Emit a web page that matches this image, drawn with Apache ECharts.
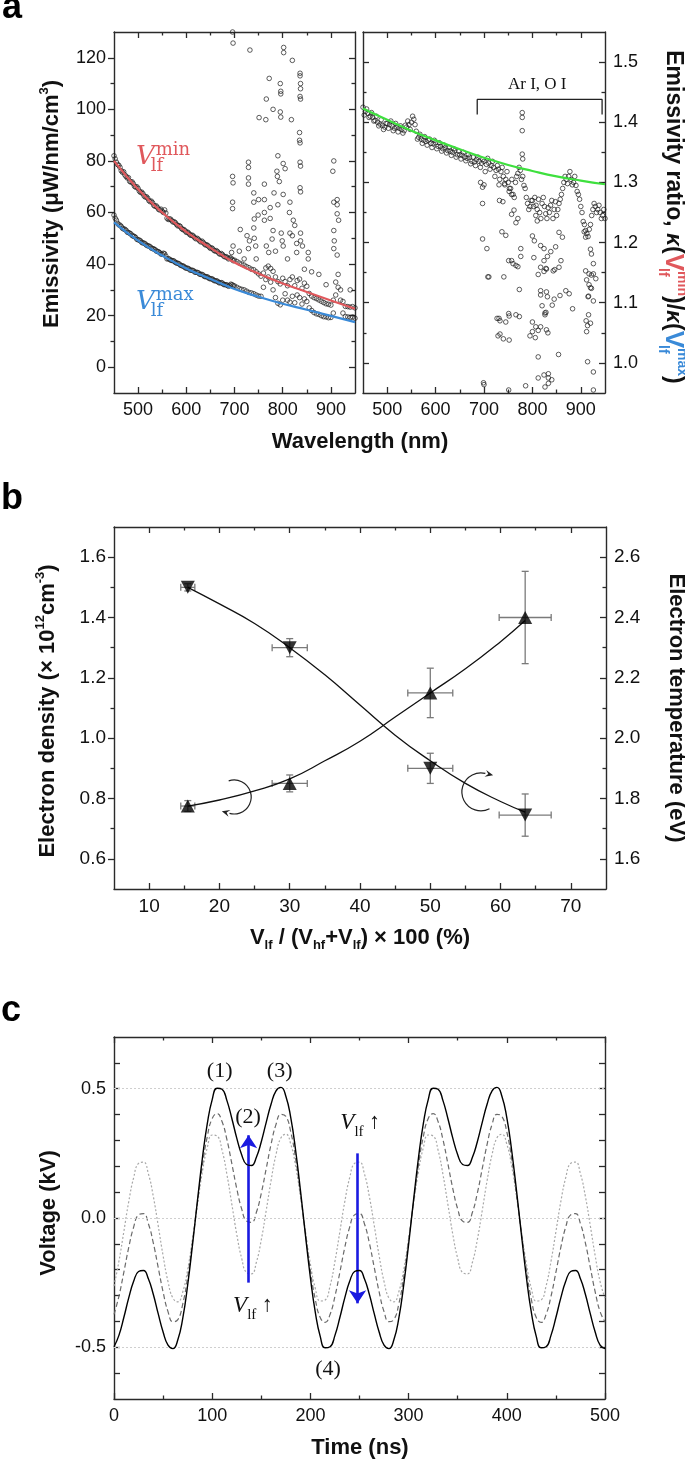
<!DOCTYPE html>
<html><head><meta charset="utf-8">
<script src="https://cdn.jsdelivr.net/npm/echarts@6/dist/echarts.min.js"></script>
<style>html,body{margin:0;padding:0;background:#fff}#c{width:685px;height:1463px}</style>
</head><body><div id="c"></div>
<script>
// ---------------- DATA ----------------
function range(a, b, s) { const r = []; for (let v = a; v <= b + 1e-9; v += s) r.push(Math.round(v * 1000) / 1000); return r; }
// Panel a
const wavelengths = range(450, 950, 5);
const wavelengthsB = range(452.5, 947.5, 5);
const wavelengthsShort = range(452.5, 697.5, 5);
const emisMinData = [82.0,79.5,78.3,76.2,75.8,74.0,73.5,71.8,71.2,69.8,
 69.3,67.8,67.3,66.0,65.5,64.2,63.8,62.4,62.0,61.0,
 60.5,61.0,57.8,57.5,56.8,56.4,55.3,54.9,53.8,53.4,
 52.3,52.0,51.1,50.8,49.8,49.6,48.6,48.4,47.4,47.1,
 46.1,45.9,45.0,44.8,43.8,43.7,42.8,42.5,42.3,41.8,
 41.5,41.0,40.4,40.0,39.6,39.0,38.6,38.0,37.8,37.0,
 36.2,35.3,36.5,38.5,39.2,38.3,37.2,35.0,33.2,32.3,
 34.5,33.2,31.6,34.0,35.0,31.6,33.6,34.2,30.6,32.6,
 31.4,28.6,27.6,27.0,26.6,26.1,25.6,25.1,24.6,24.4,
 24.1,26.0,33.0,36.0,30.0,25.5,23.6,23.5,23.3,23.5,23.0];
const emisMinDataB = [80.8,78.6,77.5,75.6,74.6,73.4,72.1,71.9,70.2,70.0,
 68.3,67.9,66.4,66.1,64.6,64.4,62.8,62.6,61.2,61.3,
 60.0,59.8,57.3,57.4,56.3,56.0,54.8,54.6,53.4,52.9,
 52.4,51.4,51.2,50.2,50.0,49.0,48.9,47.8,47.5,46.6,
 46.3,45.3,45.2,44.2,44.1,43.1,42.9,42.0,42.4,41.3];
const emisMaxData = [59.0,57.0,55.2,54.6,53.6,53.1,52.2,51.7,50.8,50.3,
 49.4,49.0,48.2,47.8,47.1,46.7,46.0,45.6,44.9,44.4,
 43.8,44.0,42.0,41.9,41.4,41.1,40.4,40.1,39.4,39.1,
 38.4,38.2,37.6,37.4,36.8,36.6,36.0,35.7,35.1,34.9,
 34.3,34.1,33.5,33.3,32.7,32.6,32.0,31.8,31.7,32.0,
 31.5,31.0,30.5,30.2,30.0,29.5,29.0,28.8,28.5,28.0,
 27.6,27.5,31.0,34.0,35.0,33.0,30.0,27.0,24.8,24.2,
 26.0,28.5,26.0,25.2,27.5,25.0,28.0,27.0,24.5,26.5,
 25.5,23.0,22.0,21.2,20.7,20.5,20.0,19.6,19.5,19.2,
 19.3,21.0,28.0,31.0,26.0,21.0,19.6,19.5,19.3,19.5,19.0];
const emisMaxDataB = [57.8,55.8,55.1,53.9,53.5,52.4,52.0,51.1,50.7,49.6,
 49.3,48.4,48.1,47.3,47.0,46.2,45.9,45.1,44.8,43.9,
 44.2,43.1,42.1,41.5,41.3,40.6,40.3,39.6,39.3,38.6,
 38.4,37.7,37.6,36.9,36.8,36.1,36.0,35.2,35.1,34.4,
 34.3,33.6,33.5,32.8,32.8,32.1,32.0,31.4,32.2,31.6];
const ratioData = [1.425,1.418,1.415,1.410,1.408,1.403,1.400,1.397,1.395,1.392,
 1.398,1.396,1.394,1.390,1.392,1.390,1.388,1.386,1.392,1.396,
 1.400,1.405,1.385,1.375,1.372,1.370,1.368,1.370,1.365,1.364,
 1.366,1.360,1.360,1.356,1.358,1.353,1.352,1.350,1.353,1.346,
 1.346,1.345,1.342,1.340,1.342,1.335,1.334,1.338,1.335,1.332,
 1.335,1.330,1.332,1.328,1.325,1.320,1.322,1.318,1.310,1.305,
 1.300,1.290,1.280,1.300,1.315,1.320,1.310,1.290,1.265,1.260,
 1.270,1.275,1.255,1.250,1.265,1.260,1.240,1.250,1.270,1.255,
 1.245,1.265,1.280,1.300,1.305,1.310,1.305,1.300,1.295,1.280,
 1.260,1.235,1.220,1.210,1.230,1.255,1.260,1.255,1.250,1.245,1.240];
const ratioDataB = [1.412,1.422,1.408,1.416,1.402,1.410,1.394,1.404,1.388,1.398,
 1.390,1.402,1.386,1.398,1.384,1.394,1.382,1.395,1.402,1.388,
 1.410,1.396,1.372,1.380,1.365,1.376,1.362,1.372,1.358,1.370,
 1.356,1.366,1.352,1.362,1.349,1.358,1.345,1.356,1.342,1.352,
 1.339,1.350,1.336,1.346,1.331,1.342,1.328,1.342,1.325,1.338,
 1.318,1.340,1.322,1.335,1.310,1.328,1.305,1.325,1.298,1.318,
 1.290,1.305,1.275,1.310,1.325,1.305,1.295,1.275,1.255,1.270,
 1.260,1.262,1.272,1.240,1.275,1.248,1.258,1.262,1.240,1.268,
 1.255,1.272,1.290,1.310,1.298,1.318,1.296,1.310,1.285,1.272,
 1.250,1.230,1.215,1.222,1.245,1.265,1.250,1.262,1.240,1.255];
const fitWavelengths = [450,500,550,600,650,700,750,800,850,900,950];
const fitMin = [80.0,69.0,60.0,52.5,46.3,40.6,36.3,32.5,29.2,25.9,22.7];
const fitMax = [56.2,49.1,43.3,38.3,34.2,30.3,27.3,24.6,22.3,19.9,17.5];
const fitRatio = [1.423,1.404,1.386,1.370,1.355,1.341,1.329,1.319,1.310,1.303,1.297];
const emisOutliers = [[696,130],[697,125.7],[732,123],[772,112],[766,104],[780,100],[751,96.8],[765,96],[802,124],[802,122],[820,119],[836,114],[836,113],[837,110],[837,108],[836,105],[837,104],[795,110],[796,107],[796,106],[795,99],[796,97],[818,96],[835,91],[835,88],[836,87],[790,82],[801,79],[805,77],[836,79.5],[837,78],[836,69.6],[837,68],[906,80],[904,76],[913,65],[913,63],[906,64],[696,74],[697,71.5],[696,64],[696,61.5],[729,79.5],[729,77.5],[729,73.4],[729,71],[740,67.6],[740,64],[741,57.5],[740,54],[712,53.4],[762,71],[782,67.6],[762,65],[762,60],[774,61.9],[774,57.7],[788,76],[789,74],[793,72],[801,67],[815,64],[814,60],[822,57],[825,55],[837,52],[837,49],[841,47],[797,52],[799,49],[780,53],[762,57],[778,49.7],[741,50],[744,47],[697,47],[694,44.5],[766,47],[771,44.5],[801,47],[829,48],[829,44.5],[853,44.5],[853,42],[906,53],[907,49],[913,59.5],[916,57],[906,46],[913,43.5],[726,51],[731,49],[729,46],[750,65],[749,59],[790,63],[815,52],[820,51],[710,45],[720,42],[745,42],[785,45],[810,42],[845,38],[860,37],[875,36],[890,32],[940,30]];
const ratioOutliers = [[779,1.416],[779,1.408],[779,1.386],[779,1.347],[780,1.339],[693,1.30],[697,1.292],[700,1.296],[697,1.265],[731,1.296],[743,1.296],[752,1.285],[757,1.28],[739,1.268],[732,1.27],[697,1.206],[706,1.19],[737,1.218],[745,1.212],[757,1.247],[762,1.254],[770,1.24],[766,1.233],[710,1.143],[741,1.143],[757,1.17],[770,1.16],[776,1.19],[800,1.211],[804,1.203],[807,1.245],[810,1.236],[817,1.195],[824,1.19],[817,1.159],[828,1.157],[817,1.12],[820,1.095],[828,1.084],[838,1.185],[848,1.193],[855,1.217],[862,1.209],[859,1.17],[855,1.159],[869,1.12],[876,1.115],[883,1.09],[845,1.106],[841,1.096],[907,1.218],[910,1.209],[920,1.189],[922,1.181],[926,1.165],[926,1.148],[931,1.14],[920,1.125],[916,1.111],[926,1.103],[916,1.08],[731,1.074],[745,1.068],[766,1.08],[773,1.077],[800,1.068],[807,1.06],[751,1.17],[760,1.165],[766,1.162],[776,1.177],[803,1.175],[824,1.17],[831,1.177],[846,1.155],[843,1.153],[812,1.147],[824,1.152],[829,1.156],[708,1.143],[773,1.122],[829,1.118],[831,1.11],[817,1.113],[857,1.112],[910,1.153],[917,1.148],[922,1.146],[912,1.138],[917,1.13],[922,1.124],[915,1.11],[727,1.074],[733,1.07],[751,1.082],[752,1.078],[729,1.045],[733,1.048],[740,1.04],[752,1.038],[795,1.045],[800,1.052],[806,1.042],[812,1.054],[817,1.06],[826,1.083],[826,1.08],[829,1.055],[832,1.05],[911,1.07],[914,1.062],[920,1.066],[912,1.052],[812,1.01],[854,1.014],[914,1.002],[812,0.975],[824,0.98],[833,0.982],[833,0.975],[833,0.966],[840,0.972],[699,0.967],[700,0.964],[751,0.955],[786,0.962],[826,0.96],[926,0.985],[926,0.955]];
const bracketX = [686, 686, 944, 944];
const bracketY = [1.413, 1.438, 1.438, 1.413];

// Panel b
const lfPercent = [15.5, 30, 50, 63.5];
const lfPercentErr = [1.0, 2.5, 3.2, 3.7];
const densityVals = [0.775, 0.85, 1.15, 1.40];
const densityErr = [0.018, 0.028, 0.082, 0.153];
const tempVals = [2.50, 2.30, 1.90, 1.745];
const tempErr = [0.012, 0.03, 0.05, 0.07];
const fitPercent = [15.5, 20, 25, 30, 35, 40, 45, 50, 55, 60, 63.5];
const densityFit = [0.775, 0.795, 0.825, 0.865, 0.925, 0.99, 1.07, 1.15, 1.23, 1.32, 1.39];
const tempFit = [2.50, 2.445, 2.38, 2.30, 2.21, 2.11, 2.01, 1.925, 1.85, 1.79, 1.755];

// Panel c
const timeNs = range(0, 500, 5);
const voltHigh = [-0.498,-0.454,-0.385,-0.309,-0.245,-0.207,-0.203,-0.235,-0.295,-0.370,-0.441,-0.492,-0.505,-0.471,-0.388,-0.260,-0.102,0.068,0.231,0.365,0.458,0.502,0.498,0.454,0.385,0.309,0.245,0.207,0.203,0.235,0.295,0.370,0.441,0.492,0.505,0.471,0.388,0.260,0.102,-0.068,-0.231,-0.365,-0.458,-0.502,
 -0.498,-0.454,-0.385,-0.309,-0.245,-0.207,-0.203,-0.235,-0.295,-0.370,-0.441,-0.492,-0.505,-0.471,-0.388,-0.260,-0.102,0.068,0.231,0.365,0.458,0.502,0.498,0.454,0.385,0.309,0.245,0.207,0.203,0.235,0.295,0.370,0.441,0.492,0.505,0.471,0.388,0.260,0.102,-0.068,-0.231,-0.365,-0.458,-0.502,
 -0.498,-0.454,-0.385,-0.309,-0.245,-0.207,-0.203,-0.235,-0.295,-0.370,-0.441,-0.492,-0.505];
const voltMid = [-0.373,-0.303,-0.210,-0.114,-0.035,0.012,0.017,-0.022,-0.096,-0.191,-0.286,-0.362,-0.401,-0.393,-0.333,-0.228,-0.090,0.060,0.202,0.315,0.385,0.404,0.373,0.303,0.210,0.114,0.035,-0.012,-0.017,0.022,0.096,0.191,0.286,0.362,0.401,0.393,0.333,0.228,0.090,-0.060,-0.202,-0.315,-0.385,-0.404,
 -0.373,-0.303,-0.210,-0.114,-0.035,0.012,0.017,-0.022,-0.096,-0.191,-0.286,-0.362,-0.401,-0.393,-0.333,-0.228,-0.090,0.060,0.202,0.315,0.385,0.404,0.373,0.303,0.210,0.114,0.035,-0.012,-0.017,0.022,0.096,0.191,0.286,0.362,0.401,0.393,0.333,0.228,0.090,-0.060,-0.202,-0.315,-0.385,-0.404,
 -0.373,-0.303,-0.210,-0.114,-0.035,0.012,0.017,-0.022,-0.096,-0.191,-0.286,-0.362,-0.401];
const voltLow = [-0.263,-0.168,-0.053,0.063,0.156,0.211,0.216,0.171,0.084,-0.029,-0.146,-0.246,-0.310,-0.324,-0.286,-0.200,-0.080,0.053,0.178,0.272,0.321,0.317,0.263,0.168,0.053,-0.063,-0.156,-0.211,-0.216,-0.171,-0.084,0.029,0.146,0.246,0.310,0.324,0.286,0.200,0.080,-0.053,-0.178,-0.272,-0.321,-0.317,
 -0.263,-0.168,-0.053,0.063,0.156,0.211,0.216,0.171,0.084,-0.029,-0.146,-0.246,-0.310,-0.324,-0.286,-0.200,-0.080,0.053,0.178,0.272,0.321,0.317,0.263,0.168,0.053,-0.063,-0.156,-0.211,-0.216,-0.171,-0.084,0.029,0.146,0.246,0.310,0.324,0.286,0.200,0.080,-0.053,-0.178,-0.272,-0.321,-0.317,
 -0.263,-0.168,-0.053,0.063,0.156,0.211,0.216,0.171,0.084,-0.029,-0.146,-0.246,-0.310];
const voltGridLevels = [0.5, 0, -0.5];
const arrowUp = [[137, -0.25], [137, 0.32]];
const arrowDown = [[248, 0.25], [248, -0.33]];

// tick values
const aXMajor = [500,600,700,800,900], aXMinor = [550,650,750,850];
const aYMajor = [0,20,40,60,80,100,120], aYMinor = [10,30,50,70,90,110];
const rYMajor = [1.0,1.1,1.2,1.3,1.4,1.5], rYMinor = [1.05,1.15,1.25,1.35,1.45];
const bXMajor = [10,20,30,40,50,60,70], bXMinor = [15,25,35,45,55,65];
const bYMajor = [0.6,0.8,1.0,1.2,1.4,1.6], bYMinor = [0.7,0.9,1.1,1.3,1.5];
const bTMajor = [1.6,1.8,2.0,2.2,2.4,2.6], bTMinor = [1.7,1.9,2.1,2.3,2.5];
const cXMajor = [0,100,200,300,400,500], cXMinor = [50,150,250,350,450];
const cYTicks = [-0.6,-0.5,-0.4,-0.3,-0.2,-0.1,0,0.1,0.2,0.3,0.4,0.5,0.6];
const cYLabels = [-0.5, 0, 0.5];

// ---------------- STYLE / LAYOUT ----------------
const SANS = '"Liberation Sans", Arial, Helvetica, sans-serif';
const SERIF = '"Liberation Serif", "Times New Roman", serif';
const MATH = '"DejaVu Serif", serif';
const AX = '#2a2a2a';
const RED = '#e0585c', BLUE = '#3a8ad8', GREEN = '#3ee03e', ARROW = '#1a1ae0';

const xAxes = [], yAxes = [];
const fmt1 = v => (Math.round(v * 10) / 10).toFixed(1);
const fmt0 = v => String(Math.round(v));
function side(list, gi, pos, min, max, majors, minors, labels, fmt, fs, inside) {
  const idx = list.length;
  const mk = (ticks, len, showLine, lab) => ({
    type: 'value', gridIndex: gi, position: pos, min, max,
    axisLine: { show: showLine, onZero: false, lineStyle: { color: AX, width: 1.4 } },
    axisTick: ticks.length ? { show: true, inside, length: len, customValues: ticks, lineStyle: { color: AX, width: 1.3 } } : { show: false },
    axisLabel: lab ? { show: true, customValues: lab, formatter: fmt, fontSize: fs, fontFamily: SANS, color: '#111', margin: 8 } : { show: false },
    splitLine: { show: false }, minorTick: { show: false }
  });
  list.push(mk(majors, 6, true, labels));
  list.push(mk(minors, 3.5, false, null));
  return idx;
}
// grid 0 (a left)
const xa0 = side(xAxes, 0, 'bottom', 450, 950, aXMajor, aXMinor, aXMajor, fmt0, 18, true);
side(xAxes, 0, 'top', 450, 950, aXMajor, aXMinor, null, fmt0, 18, true);
const ya0 = side(yAxes, 0, 'left', -10, 130, aYMajor, aYMinor, aYMajor, fmt0, 18, false);
side(yAxes, 0, 'right', -10, 130, aYMajor, aYMinor, null, fmt0, 18, true);
// grid 1 (a right)
const xa1 = side(xAxes, 1, 'bottom', 450, 950, aXMajor, aXMinor, aXMajor, fmt0, 18, true);
side(xAxes, 1, 'top', 450, 950, aXMajor, aXMinor, null, fmt0, 18, true);
side(yAxes, 1, 'left', 0.95, 1.55, rYMajor, rYMinor, null, fmt1, 18, true);
const ya1 = side(yAxes, 1, 'right', 0.95, 1.55, rYMajor, rYMinor, rYMajor, fmt1, 18, true);
// grid 2 (b)
const xb = side(xAxes, 2, 'bottom', 5, 75, bXMajor, bXMinor, bXMajor, fmt0, 19, true);
side(xAxes, 2, 'top', 5, 75, bXMajor, bXMinor, null, fmt0, 19, true);
const ybL = side(yAxes, 2, 'left', 0.5, 1.7, bYMajor, bYMinor, bYMajor, fmt1, 19, false);
const ybR = side(yAxes, 2, 'right', 1.5, 2.7, bTMajor, bTMinor, bTMajor, fmt1, 19, true);
// grid 3 (c)
const xc = side(xAxes, 3, 'bottom', 0, 500, cXMajor, cXMinor, cXMajor, fmt0, 18, true);
side(xAxes, 3, 'top', 0, 500, cXMajor, cXMinor, null, fmt0, 18, true);
const yc = side(yAxes, 3, 'left', -0.7, 0.7, cYTicks, [], cYLabels, fmt1, 18, true);
side(yAxes, 3, 'right', -0.7, 0.7, cYTicks, [], null, fmt1, 18, true);

const circ = { color: 'rgba(0,0,0,0)', borderColor: '#1e1e1e', borderWidth: 0.9 };
function scatter(xi, yi, data, size) {
  return { type: 'scatter', xAxisIndex: xi, yAxisIndex: yi, data, symbol: 'circle', symbolSize: size || 4.6, itemStyle: circ, z: 2, silent: true };
}
function fitLine(xi, yi, xs, ys, color, width, extra) {
  return Object.assign({ type: 'line', xAxisIndex: xi, yAxisIndex: yi, data: xs.map((x, i) => [x, ys[i]]), smooth: true, symbol: 'none', showSymbol: false, lineStyle: { color, width }, z: 4, silent: true }, extra || {});
}
function errBars(xi, yi, xs, ys, exs, eys) {
  return {
    type: 'custom', xAxisIndex: xi, yAxisIndex: yi, z: 3, silent: true,
    data: xs.map((x, i) => [x, ys[i], exs[i], eys[i]]),
    encode: { x: 0, y: 1 },
    renderItem: (params, api) => {
      const x = api.value(0), y = api.value(1), ex = api.value(2), ey = api.value(3);
      const l = api.coord([x - ex, y]), r = api.coord([x + ex, y]);
      const t = api.coord([x, y + ey]), b = api.coord([x, y - ey]);
      const cap = 3.5, st = { stroke: '#7a7a7a', lineWidth: 1.3 };
      const ln = (x1, y1, x2, y2) => ({ type: 'line', shape: { x1, y1, x2, y2 }, style: st });
      return { type: 'group', children: [
        ln(l[0], l[1], r[0], r[1]), ln(l[0], l[1] - cap, l[0], l[1] + cap), ln(r[0], r[1] - cap, r[0], r[1] + cap),
        ln(t[0], t[1], b[0], b[1]), ln(t[0] - cap, t[1], t[0] + cap, t[1]), ln(b[0] - cap, b[1], b[0] + cap, b[1])
      ] };
    }
  };
}
const zip = (xs, ys) => xs.map((x, i) => [x, ys[i]]);

const series = [
  scatter(xa0, ya0, zip(wavelengths, emisMinData)),
  scatter(xa0, ya0, zip(wavelengthsShort, emisMinDataB)),
  scatter(xa0, ya0, zip(wavelengths, emisMaxData)),
  scatter(xa0, ya0, zip(wavelengthsShort, emisMaxDataB)),
  scatter(xa0, ya0, emisOutliers),
  fitLine(xa0, ya0, fitWavelengths, fitMin, RED, 2.2),
  fitLine(xa0, ya0, fitWavelengths, fitMax, BLUE, 2.2),
  scatter(xa1, ya1, zip(wavelengths, ratioData)),
  scatter(xa1, ya1, zip(wavelengthsB, ratioDataB)),
  scatter(xa1, ya1, ratioOutliers),
  fitLine(xa1, ya1, fitWavelengths, fitRatio, GREEN, 2.2),
  { type: 'line', xAxisIndex: xa1, yAxisIndex: ya1, data: zip(bracketX, bracketY), symbol: 'none', lineStyle: { color: '#222', width: 1.3 }, silent: true, z: 4 },
  // panel b
  fitLine(xb, ybL, fitPercent, densityFit, '#111', 1.3),
  fitLine(xb, ybR, fitPercent, tempFit, '#111', 1.3),
  errBars(xb, ybL, lfPercent, densityVals, lfPercentErr, densityErr),
  errBars(xb, ybR, lfPercent, tempVals, lfPercentErr, tempErr),
  { type: 'scatter', xAxisIndex: xb, yAxisIndex: ybL, data: zip(lfPercent, densityVals), symbol: 'triangle', symbolSize: [14, 13], itemStyle: { color: '#000' }, z: 5, silent: true },
  { type: 'scatter', xAxisIndex: xb, yAxisIndex: ybR, data: zip(lfPercent, tempVals), symbol: 'triangle', symbolRotate: 180, symbolSize: [14, 13], itemStyle: { color: '#000' }, z: 5, silent: true },
  // panel c
  fitLine(xc, yc, timeNs, voltLow, '#a8a8a8', 1.2, { lineStyle: { color: '#a8a8a8', width: 1.2, type: [2, 2] },
    markLine: { silent: true, symbol: 'none', label: { show: false }, lineStyle: { color: '#cfcfcf', width: 1, type: [2, 2] }, data: voltGridLevels.map(v => ({ yAxis: v })) } }),
  fitLine(xc, yc, timeNs, voltMid, '#6a6a6a', 1.2, { lineStyle: { color: '#6a6a6a', width: 1.2, type: [5, 3] } }),
  fitLine(xc, yc, timeNs, voltHigh, '#000', 1.4, { z: 5,
    markLine: { silent: true, symbol: ['none', 'arrow'], symbolSize: 13, label: { show: false }, lineStyle: { color: ARROW, width: 2.6, type: 'solid' },
      data: [[{ coord: arrowUp[0] }, { coord: arrowUp[1] }], [{ coord: arrowDown[0] }, { coord: arrowDown[1] }]] } })
];

const chart = echarts.init(document.getElementById('c'), null, { renderer: 'canvas', width: 685, height: 1463 });
chart.setOption({
  animation: false, backgroundColor: '#fff',
  textStyle: { fontFamily: SANS },
  grid: [
    { left: 114, top: 32, width: 241, height: 361, outerBoundsMode: 'none' },
    { left: 363, top: 32, width: 242, height: 361, outerBoundsMode: 'none' },
    { left: 114, top: 527, width: 492, height: 362, outerBoundsMode: 'none' },
    { left: 114, top: 1037, width: 491, height: 362, outerBoundsMode: 'none' }
  ],
  xAxis: xAxes, yAxis: yAxes, series
});

// ---------------- ANNOTATIONS ----------------
const mctx = document.createElement('canvas').getContext('2d');
function tw(t, f) { mctx.font = f; return mctx.measureText(t).width; }
function mathText(cx, cy, rotation, pieces, align) {
  let w = 0; const items = [];
  pieces.forEach(p => {
    if (p.stack) {
      let mw = 0;
      p.stack.forEach(s => { items.push({ x: w + (s.dx || 0), y: s.dy || 0, t: s.t, f: s.f, c: s.c || p.c || '#111' }); mw = Math.max(mw, (s.dx || 0) + tw(s.t, s.f)); });
      w += mw;
    } else { items.push({ x: w, y: p.dy || 0, t: p.t, f: p.f, c: p.c || '#111' }); w += tw(p.t, p.f); }
  });
  const off = align === 'left' ? 0 : -w / 2;
  return { type: 'group', x: cx, y: cy, rotation, silent: true, children: items.map(it => ({
    type: 'text', x: it.x + off, y: it.y, style: { text: it.t, font: it.f, fill: it.c, textAlign: 'left', textVerticalAlign: 'middle', align: 'left', verticalAlign: 'middle' } })) };
}
const B22 = 'bold 22px ' + SANS, B13 = 'bold 13px ' + SANS;
const g = [];
const simple = (x, y, t, f, c, rot) => ({ type: 'text', x, y, rotation: rot || 0, silent: true, style: { text: t, font: f, fill: c || '#111', textAlign: 'center', textVerticalAlign: 'middle', align: 'center', verticalAlign: 'middle' } });
// panel letters
g.push({ type: 'text', x: 2, y: 8, style: { text: 'a', font: 'bold 36px ' + SANS, fill: '#000', textAlign: 'left', textVerticalAlign: 'middle' } });
g.push({ type: 'text', x: 1, y: 499, style: { text: 'b', font: 'bold 36px ' + SANS, fill: '#000', textAlign: 'left', textVerticalAlign: 'middle' } });
g.push({ type: 'text', x: 1, y: 1011, style: { text: 'c', font: 'bold 36px ' + SANS, fill: '#000', textAlign: 'left', textVerticalAlign: 'middle' } });
// panel a titles
g.push(simple(360, 442, 'Wavelength (nm)', B22));
g.push(mathText(52, 204, Math.PI / 2, [{ t: 'Emissivity (μW/nm/cm', f: B22 }, { t: '3', f: B13, dy: -8 }, { t: ')', f: B22 }]));
const B23 = 'bold 23px ' + SANS, BI23 = 'italic bold 23px ' + SANS, BV = 'bold 26px ' + SANS, B14 = 'bold 14px ' + SANS;
g.push(mathText(673, 217, -Math.PI / 2, [
  { t: 'Emissivity ratio, ', f: B23 }, { t: 'κ', f: BI23 }, { t: '(', f: B23 },
  { t: 'V', f: BV, c: RED }, { stack: [{ t: 'min', f: B14, dy: -9, dx: 0 }, { t: 'lf', f: B14, dy: 10, dx: -3 }], c: RED },
  { t: ')/', f: B23 }, { t: 'κ', f: BI23 }, { t: '(', f: B23 },
  { t: 'V', f: BV, c: BLUE }, { stack: [{ t: 'max', f: B14, dy: -9, dx: 0 }, { t: 'lf', f: B14, dy: 10, dx: -3 }], c: BLUE },
  { t: ')', f: B23 }]));
// legends in panel a
const VI = 'italic 26px ' + MATH, SM = '18px ' + MATH;
g.push(mathText(136, 157, 0, [{ t: 'V', f: VI, c: RED }, { stack: [{ t: 'min', f: SM, dy: -7, dx: 1 }, { t: 'lf', f: SM, dy: 9, dx: -4 }], c: RED }], 'left'));
g.push(mathText(136, 302, 0, [{ t: 'V', f: VI, c: BLUE }, { stack: [{ t: 'max', f: SM, dy: -7, dx: 1 }, { t: 'lf', f: SM, dy: 9, dx: -4 }], c: BLUE }], 'left'));
const ar = chart.convertToPixel({ xAxisIndex: xa1, yAxisIndex: ya1 }, [810, 1.463]);
g.push(simple(ar[0], ar[1], 'Ar I, O I', '17px ' + SERIF, '#111'));
// panel b titles
g.push(mathText(48, 711, Math.PI / 2, [{ t: 'Electron density (× 10', f: B22 }, { t: '12', f: B13, dy: -8 }, { t: 'cm', f: B22 }, { t: '-3', f: B13, dy: -8 }, { t: ')', f: B22 }]));
g.push(simple(676, 708, 'Electron temperature (eV)', B22, '#111', -Math.PI / 2));
g.push(mathText(360, 938, 0, [{ t: 'V', f: B22 }, { t: 'lf', f: B13, dy: 7 }, { t: ' / (V', f: B22 }, { t: 'hf', f: B13, dy: 7 }, { t: '+V', f: B22 }, { t: 'lf', f: B13, dy: 7 }, { t: ') × 100 (%)', f: B22 }]));
// curved arrows panel b
function curvedArrow(cData, r, a0, a1) {
  const c = chart.convertToPixel({ xAxisIndex: xb, yAxisIndex: ybL }, cData);
  const ex = c[0] + r * Math.cos(a1), ey = c[1] + r * Math.sin(a1);
  const dx = -Math.sin(a1), dy = Math.cos(a1);
  const px = -dy, py = dx, L = 8, W = 3.5;
  return [
    { type: 'arc', silent: true, shape: { cx: c[0], cy: c[1], r, startAngle: a0, endAngle: a1, clockwise: true }, style: { stroke: '#222', fill: 'none', lineWidth: 1.2 } },
    { type: 'polygon', silent: true, shape: { points: [[ex + dx * L, ey + dy * L], [ex + px * W, ey + py * W], [ex + dx * 3, ey + dy * 3], [ex - px * W, ey - py * W]] }, style: { fill: '#222' } }
  ];
}
const bArrowCenters = [[22.1, 0.805], [57.2, 0.822]];
g.push(...curvedArrow(bArrowCenters[0], 17, -1.9, 1.85));
g.push(...curvedArrow(bArrowCenters[1], 19, 1.1, 4.95));
// panel c
g.push(simple(360, 1448, 'Time (ns)', B22));
g.push(simple(49, 1213, 'Voltage (kV)', B22, '#111', Math.PI / 2));
const cLabels = [['(1)', 107.6, 0.566], ['(3)', 168.7, 0.566], ['(2)', 136.5, 0.391], ['(4)', 217.9, -0.584]];
cLabels.forEach(l => { const p = chart.convertToPixel({ xAxisIndex: xc, yAxisIndex: yc }, [l[1], l[2]]); g.push(simple(p[0], p[1], l[0], '22px ' + SERIF, '#111')); });
const vlfPos = [[121.3, -0.342], [230.5, 0.366]];
vlfPos.forEach(v => { const p = chart.convertToPixel({ xAxisIndex: xc, yAxisIndex: yc }, v);
  g.push(mathText(p[0], p[1], 0, [{ t: 'V', f: 'italic 23px ' + SERIF }, { t: 'lf', f: '15px ' + SERIF, dy: 9 }, { t: ' ↑', f: '22px ' + SERIF, dy: -1 }], 'left')); });
chart.setOption({ graphic: g });
</script></body></html>
